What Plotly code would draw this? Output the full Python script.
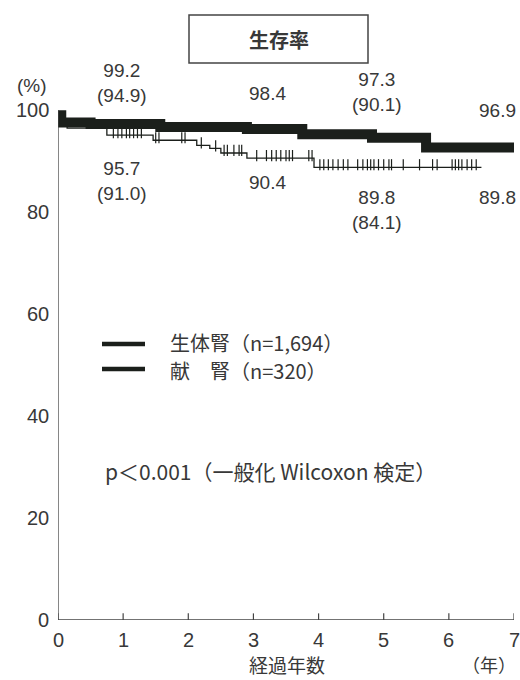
import numpy as np
import plotly.graph_objects as go

# ---- data ----
living_t = [0, 0.05, 0.5, 1.57, 2.9, 3.75, 4.82, 5.65, 7.0]
living_s = [99.0, 97.6, 97.3, 96.7, 96.3, 95.3, 94.6, 92.7, 92.7]

cadaver_t = [0, 0.14, 0.75, 1.46, 2.13, 2.33, 2.5, 2.9, 3.93, 6.5]
cadaver_s = [97.6, 96.5, 95.1, 94.1, 93.1, 92.5, 91.6, 90.6, 88.8, 88.8]
cadaver_censor = [0.85, 0.92, 0.98, 1.05, 1.1, 1.16, 1.22, 1.28, 1.5, 1.55, 1.9, 1.95,
                  2.2, 2.42, 2.55, 2.6, 2.7, 2.78, 2.82, 3.05, 3.2, 3.28, 3.35, 3.42,
                  3.5, 3.55, 3.6, 3.85, 3.9, 4.02, 4.08, 4.15, 4.22, 4.3, 4.38, 4.45,
                  4.6, 4.68, 4.75, 4.8, 4.85, 4.92, 5.0, 5.08, 5.12, 5.3, 5.55, 5.75,
                  5.82, 6.05, 6.1, 6.15, 6.2, 6.28, 6.35, 6.42]

label_years = [1, 3, 5, 7]
labels_upper = ["99.2<br>(94.9)", "98.4", "97.3<br>(90.1)", "96.9"]
labels_lower = ["95.7<br>(91.0)", "90.4", "89.8<br>(84.1)", "89.8"]

x_ticks = [0, 1, 2, 3, 4, 5, 6, 7]
y_ticks = [0, 20, 40, 60, 80, 100]

legend_names = ["生体腎（n=1,694）", "献　腎（n=320）"]
title_text = "<b>生存率</b>"
pval_text = "p＜0.001（一般化 Wilcoxon 検定）"

# ---- figure ----
INK = "#1b1f1b"
TXT = "#383838"
NUM_FONT = "Liberation Sans, Arial"
JP_FONT = "Noto Sans CJK JP"

W, H = 520, 680
L, R, T, B = 58, 6, 100, 60


def px2paper(x, y):
    return (x - L) / (W - L - R), 1 - (y - T) / (H - T - B)


def py(y):
    return px2paper(0, y)[1]


def pxx(x):
    return px2paper(x, 0)[0]


def step_val(ts, ss, x):
    idx = np.searchsorted(ts, x, side="right") - 1
    return ss[max(idx, 0)]


fig = go.Figure()
fig.add_trace(go.Scatter(x=cadaver_t, y=cadaver_s, mode="lines", line_shape="hv",
                         line=dict(color=INK, width=1.3), showlegend=False))
fig.add_trace(go.Scatter(x=cadaver_censor,
                         y=[step_val(cadaver_t, cadaver_s, c) + 0.5 for c in cadaver_censor],
                         mode="markers",
                         marker=dict(symbol="line-ns-open", size=8, color=INK,
                                     line=dict(color=INK, width=1.2)),
                         showlegend=False))
fig.add_trace(go.Scatter(x=living_t, y=living_s, mode="lines", line_shape="hv",
                         line=dict(color=INK, width=10), showlegend=False))

ann = []
upper_px = [(0.99, 83), (3.22, 93), (4.9, 92), (6.74, 110)]
lower_px = [(0.99, 181), (3.22, 182), (4.9, 210), (6.74, 197)]
for (xv, yp), t in zip(upper_px, labels_upper):
    ann.append(dict(x=xv, y=py(yp), xref="x", yref="paper", text=t, showarrow=False,
                    font=dict(family=NUM_FONT, size=19, color=TXT), align="center",
                    xanchor="center", yanchor="middle"))
for (xv, yp), t in zip(lower_px, labels_lower):
    ann.append(dict(x=xv, y=py(yp), xref="x", yref="paper", text=t, showarrow=False,
                    font=dict(family=NUM_FONT, size=19, color=TXT), align="center",
                    xanchor="center", yanchor="middle"))

# y tick labels
for v in y_ticks:
    ann.append(dict(x=pxx(51), y=v, xref="paper", yref="y", text=str(v), showarrow=False,
                    xanchor="right", yanchor="middle",
                    font=dict(family=NUM_FONT, size=20, color=TXT)))

# x tick labels
for v in x_ticks:
    ann.append(dict(x=v, y=py(640), xref="x", yref="paper", text=str(v), showarrow=False,
                    xanchor="center", yanchor="middle",
                    font=dict(family=NUM_FONT, size=20, color=TXT)))

fixed = [
    (32, 85, "(%)", NUM_FONT, 19, "center"),
    (279, 40, title_text, JP_FONT, 20, "center"),
    (287, 664, "経過年数", JP_FONT, 19, "center"),
    (489, 664, "（年）", JP_FONT, 18, "center"),
    (168, 342, legend_names[0], JP_FONT, 20, "left"),
    (168, 370, legend_names[1], JP_FONT, 20, "left"),
    (270, 471, pval_text, JP_FONT, 21, "center"),
]
for x, y, t, f, s, anc in fixed:
    xp, yp = px2paper(x, y)
    ann.append(dict(x=xp, y=yp, xref="paper", yref="paper", text=t, showarrow=False,
                    xanchor=anc, yanchor="middle",
                    font=dict(family=f, size=s, color=TXT)))
fig.update_layout(annotations=ann)

shapes = []
x0, y0 = px2paper(189, 15)
x1, y1 = px2paper(368, 63)
shapes.append(dict(type="rect", xref="paper", yref="paper", x0=x0, y0=y0, x1=x1, y1=y1,
                   line=dict(color="#444", width=1.5)))
for yy in (344, 369):
    a0, b0 = px2paper(102, yy)
    a1, b1 = px2paper(145, yy)
    shapes.append(dict(type="line", xref="paper", yref="paper", x0=a0, y0=b0, x1=a1, y1=b1,
                       line=dict(color=INK, width=4.5)))
shapes.append(dict(type="line", xref="x", yref="y", x0=0, y0=0, x1=0, y1=100,
                   line=dict(color="#444", width=1.3)))
shapes.append(dict(type="line", xref="x", yref="y", x0=0, y0=0, x1=7, y1=0,
                   line=dict(color="#444", width=1.3)))
for v in y_ticks:
    shapes.append(dict(type="line", xref="x", yref="y", x0=-0.09, y0=v, x1=0, y1=v,
                       line=dict(color="#444", width=1.2)))
for v in x_ticks:
    shapes.append(dict(type="line", xref="x", yref="y", x0=v, y0=0, x1=v, y1=1.3,
                       line=dict(color="#444", width=1.2)))
fig.update_layout(shapes=shapes)

fig.update_layout(
    width=W, height=H,
    margin=dict(l=L, r=R, t=T, b=B),
    paper_bgcolor="white", plot_bgcolor="white",
    xaxis=dict(range=[0, 7], showgrid=False, zeroline=False, showline=False,
               showticklabels=False, ticks=""),
    yaxis=dict(range=[0, 102], showgrid=False, zeroline=False, showline=False,
               showticklabels=False, ticks=""),
)
fig.write_html("out.html", config={"displayModeBar": False},
               post_script="document.body.style.margin='0';")
